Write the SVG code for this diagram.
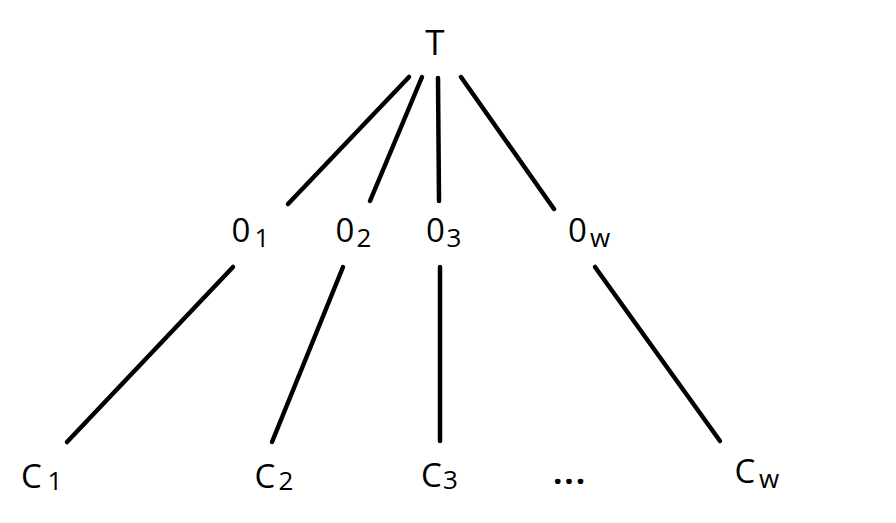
<svg xmlns="http://www.w3.org/2000/svg" width="896" height="523" viewBox="0 0 896 523">
<style>
.lbl{font-family:"Open Sans","DejaVu Sans",sans-serif;font-size:33px;font-weight:500;fill:#000;text-anchor:middle}
.sub{font-size:26px}
.top{font-size:35px}
.dots{font-weight:bold;letter-spacing:2px}
.edge{stroke:#000;stroke-width:4.5;stroke-linecap:round;fill:none}
</style>
<rect width="896" height="523" fill="#fff"/>
<g id="connectors">
<line class="edge" x1="409" y1="77" x2="288" y2="204"/>
<line class="edge" x1="422" y1="77" x2="370" y2="201"/>
<line class="edge" x1="438" y1="78" x2="439" y2="201"/>
<line class="edge" x1="461" y1="77" x2="554" y2="209"/>
<line class="edge" x1="233" y1="267" x2="67" y2="442"/>
<line class="edge" x1="343" y1="267" x2="272" y2="442"/>
<line class="edge" x1="440" y1="267" x2="440" y2="441"/>
<line class="edge" x1="595" y1="267" x2="720" y2="441"/>
</g>
<g id="node-T"><text class="lbl top" x="435" y="55">T</text></g>
<g id="node-O1"><text class="lbl" x="241" y="242">0<tspan class="sub" x="262" y="247">1</tspan></text></g>
<g id="node-O2"><text class="lbl" x="345" y="242">0<tspan class="sub" x="364" y="247">2</tspan></text></g>
<g id="node-O3"><text class="lbl" x="435.5" y="242">0<tspan class="sub" x="454" y="247">3</tspan></text></g>
<g id="node-Ow"><text class="lbl" x="577.5" y="242">0<tspan class="sub" x="600" y="247">w</tspan></text></g>
<g id="node-C1"><text class="lbl" x="31.5" y="488">C<tspan class="sub" x="55" y="490">1</tspan></text></g>
<g id="node-C2"><text class="lbl" x="265" y="488">C<tspan class="sub" x="286" y="490">2</tspan></text></g>
<g id="node-C3"><text class="lbl" x="431.5" y="487">C<tspan class="sub" x="450.5" y="489">3</tspan></text></g>
<g id="node-dots"><text class="lbl dots" x="570" y="484">...</text></g>
<g id="node-Cw"><text class="lbl" x="745" y="483">C<tspan class="sub" x="769" y="488">w</tspan></text></g>
</svg>
